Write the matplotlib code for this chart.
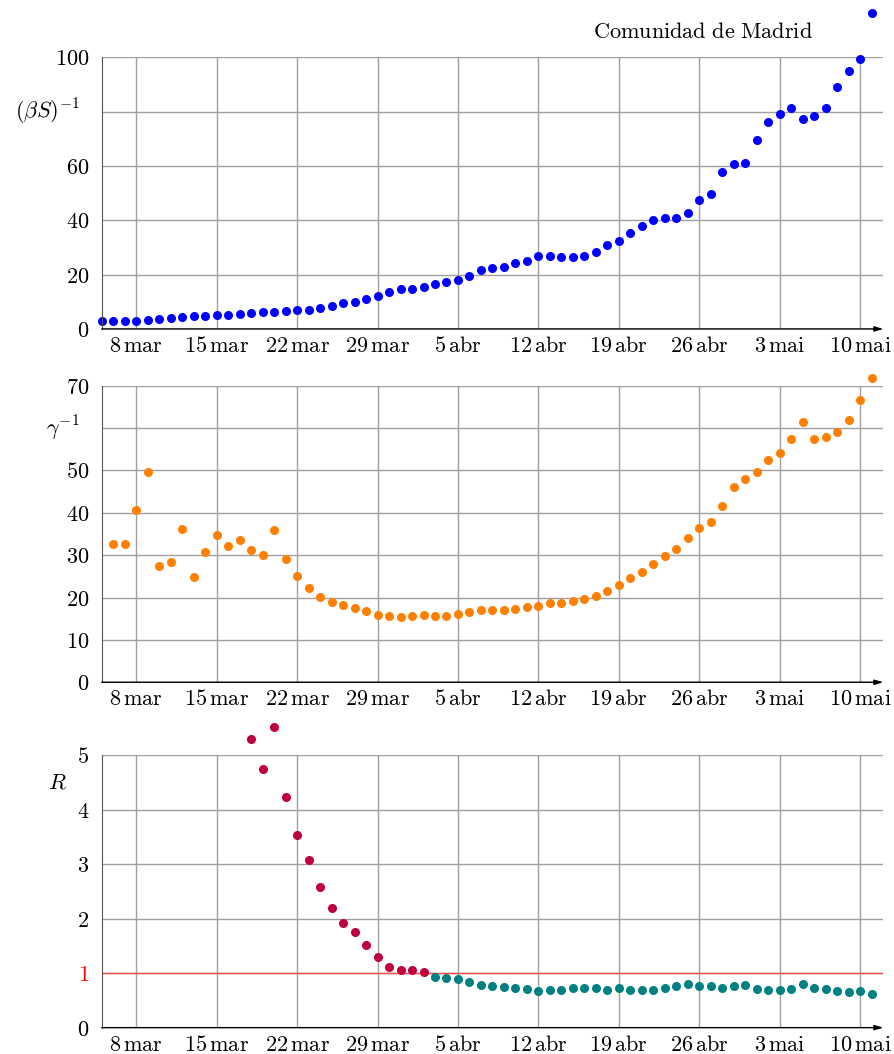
import matplotlib
matplotlib.use("Agg")
import matplotlib.pyplot as plt
import pandas as pd

plt.rcParams["mathtext.fontset"] = "cm"

# Comunidad de Madrid: (beta S)^-1, gamma^-1 and R, daily
dias_bs = pd.date_range("2020-03-05", "2020-05-11")
beta_s_inv = [3.1, 2.9, 2.8, 3.1, 3.4, 3.7, 3.9, 4.5, 4.7, 4.8, 5.0, 5.2, 5.4, 5.8,
              6.3, 6.4, 6.7, 7.0, 7.1, 7.7, 8.6, 9.4, 9.9, 11.0, 12.3, 13.7, 14.6,
              14.7, 15.3, 16.7, 17.4, 17.9, 19.6, 21.6, 22.5, 22.7, 24.3, 25.0, 26.9,
              26.9, 26.6, 26.5, 26.9, 28.5, 30.9, 32.3, 35.2, 37.8, 40.2, 40.7, 40.9,
              42.6, 47.5, 49.8, 57.8, 60.6, 61.0,
              69.4, 76.2, 79.1, 81.5, 77.2, 78.5, 81.2, 89.1, 95.1, 99.4, 116.4]

dias_g = pd.date_range("2020-03-06", "2020-05-11")
gamma_inv = [32.6, 32.6, 40.6, 49.6, 27.4, 28.4, 36.1, 24.8, 30.7, 34.7, 32.2, 33.5,
             31.1, 30.0, 35.9, 29.0, 25.0, 22.2, 20.1, 19.0, 18.2, 17.5, 16.8, 15.8,
             15.6, 15.4,
             15.6, 15.8, 15.7, 15.7, 16.2, 16.5, 17.1, 17.1, 17.1, 17.4, 17.8, 18.0,
             18.6, 18.7, 19.2, 19.6, 20.4, 21.6, 23.0, 24.5, 26.1, 28.0, 29.7, 31.5,
             34.1, 36.3, 37.8, 41.5, 46.2, 48.0,
             49.6, 52.5, 54.1, 57.3, 61.4, 57.3, 57.9, 59.1, 61.9, 66.5, 71.7]

dias_r_alto = pd.date_range("2020-03-18", "2020-04-02")
r_alto = [5.29, 4.74, 5.52, 4.23, 3.54, 3.08, 2.59, 2.19, 1.93, 1.76, 1.52, 1.30,
          1.12, 1.05, 1.05, 1.03]
dias_r_baixo = pd.date_range("2020-04-03", "2020-05-11")
r_baixo = [0.93, 0.91, 0.90, 0.84, 0.79, 0.76, 0.75, 0.72, 0.71, 0.67, 0.69, 0.70,
           0.72, 0.73, 0.72, 0.70, 0.72, 0.70, 0.69, 0.70, 0.73, 0.77, 0.80, 0.77,
           0.76, 0.72, 0.76, 0.79,
           0.71, 0.69, 0.69, 0.71, 0.80, 0.73, 0.71, 0.67, 0.65, 0.67, 0.62]

xticks = pd.to_datetime(["2020-03-08", "2020-03-15", "2020-03-22", "2020-03-29",
                         "2020-04-05", "2020-04-12", "2020-04-19", "2020-04-26",
                         "2020-05-03", "2020-05-10"])
xticklabels = ["8\\,mar", "15\\,mar", "22\\,mar", "29\\,mar", "5\\,abr", "12\\,abr",
               "19\\,abr", "26\\,abr", "3\\,mai", "10\\,mai"]

fig = plt.figure(figsize=(8.95, 10.54), dpi=100)
ax1 = fig.add_axes([0.1136, 0.6879, 0.8733, 0.2577])
ax2 = fig.add_axes([0.1136, 0.3527, 0.8733, 0.2814])
ax3 = fig.add_axes([0.1136, 0.0250, 0.8733, 0.2584])

FS = 16
MS = 6.5


def estilo(ax, yticks, ylabels, ymax):
    ax.set_xlim(pd.Timestamp("2020-03-05"), pd.Timestamp("2020-05-12"))
    ax.set_ylim(0, ymax)
    ax.set_xticks(xticks)
    ax.set_xticklabels([r"$\mathrm{" + t + "}$" for t in xticklabels], fontsize=FS)
    ax.set_yticks(yticks)
    ax.set_yticklabels(ylabels, fontsize=FS)
    ax.tick_params(axis="both", length=0)
    ax.tick_params(axis="y", pad=9)
    ax.tick_params(axis="x", pad=5)
    ax.grid(True, color="#a0a0a0", lw=1)
    ax.set_axisbelow(True)
    for s in ["top", "right", "bottom"]:
        ax.spines[s].set_visible(False)
    ax.spines["left"].set_color("#555555")
    ax.annotate("", xy=(1.0, 0), xytext=(0, 0), xycoords="axes fraction",
                arrowprops=dict(arrowstyle="-|>,head_length=0.5,head_width=0.15",
                                color="black", lw=1, shrinkA=0, shrinkB=0))


# painel 1
estilo(ax1, [0, 20, 40, 60, 80, 100], ["$0$", "$20$", "$40$", "$60$", "", "$100$"], 100)
ax1.plot(dias_bs, beta_s_inv, "o", color="#0000ff", ms=MS, mec="none", clip_on=False)
ax1.text(-0.028, 80, r"$(\beta S)^{-1}$", transform=ax1.get_yaxis_transform(),
         ha="right", va="center", fontsize=FS)
fig.text(0.786, 0.970, r"$\mathrm{Comunidad\ de\ Madrid}$", ha="center", va="center",
         fontsize=FS)

# painel 2
estilo(ax2, [0, 10, 20, 30, 40, 50, 60, 70],
       ["$0$", "$10$", "$20$", "$30$", "$40$", "$50$", "", "$70$"], 70)
ax2.plot(dias_g, gamma_inv, "o", color="#ff8000", ms=MS, mec="none", clip_on=False)
ax2.text(-0.028, 60, r"$\gamma^{-1}$", transform=ax2.get_yaxis_transform(),
         ha="right", va="center", fontsize=FS)

# painel 3
estilo(ax3, [0, 1, 2, 3, 4, 5], ["$0$", r"$\mathbf{1}$", "$2$", "$3$", "$4$", "$5$"], 5)
ax3.get_yticklabels()[1].set_color("red")
ax3.axhline(1, color="#ff4a4a", lw=1.0, zorder=1.5)
ax3.plot(dias_r_alto, r_alto, "o", color="#c0003c", ms=MS, mec="none", clip_on=False)
ax3.plot(dias_r_baixo, r_baixo, "o", color="#008080", ms=MS, mec="none", clip_on=False)
ax3.text(-0.044, 4.5, r"$R$", transform=ax3.get_yaxis_transform(),
         ha="right", va="center", fontsize=FS)

fig.savefig("out.png", dpi=100)
